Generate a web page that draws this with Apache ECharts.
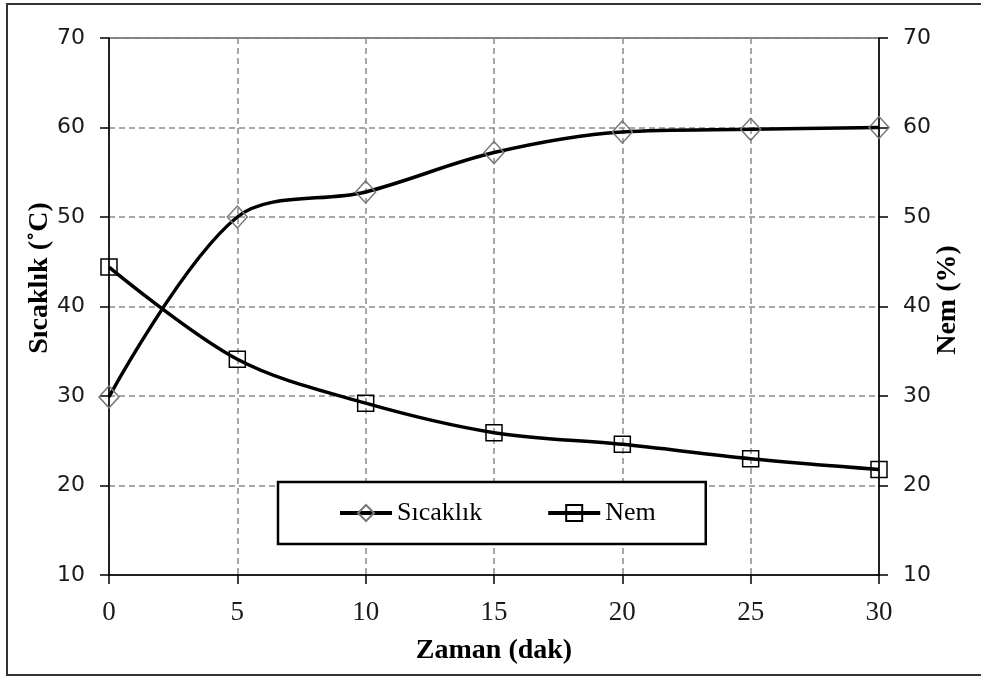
<!DOCTYPE html>
<html>
<head>
<meta charset="utf-8">
<script src="https://cdn.jsdelivr.net/npm/echarts@6/dist/echarts.min.js"></script>
<style>html,body{margin:0;padding:0;background:#fff;}#c{width:981px;height:677px;}</style>
</head>
<body>
<div id="c"></div>
<script>
const zaman = [0, 5, 10, 15, 20, 25, 30];
const sicaklik = [29.9, 50.0, 52.8, 57.2, 59.5, 59.8, 60.0];
const nem = [44.4, 34.1, 29.2, 25.9, 24.6, 23.0, 21.8];
const xTicks = [0, 5, 10, 15, 20, 25, 30];
const yTicks = [10, 20, 30, 40, 50, 60, 70];

const chart = echarts.init(document.getElementById('c'));
const gridLine = {show: true, lineStyle: {color: '#8a8a8a', width: 1.5, type: [6, 4]}};
const yLabel = {fontFamily: 'DejaVu Sans', fontSize: 22, color: '#1a1a1a', margin: 24};
function yAxis(pos) {
  return {
    type: 'value', position: pos, min: yTicks[0], max: yTicks[yTicks.length - 1], interval: 10,
    axisLine: {show: true, lineStyle: {color: '#000', width: 1.5}},
    axisTick: {show: true, length: 9, lineStyle: {color: '#000', width: 1.5}},
    axisLabel: yLabel,
    splitLine: pos === 'left' ? gridLine : {show: false}
  };
}
chart.setOption({
  animation: false,
  backgroundColor: '#fff',
  grid: {left: 109, top: 38, width: 770, height: 537, show: true, borderColor: '#000', borderWidth: 1, backgroundColor: 'transparent'},
  graphic: [
    {type: 'rect', shape: {x: 7, y: 4, width: 985, height: 671}, style: {fill: 'none', stroke: '#333', lineWidth: 2}, silent: true},
    {type: 'text', x: 40, y: 278, rotation: Math.PI / 2, style: {text: 'Sıcaklık (˚C)', textAlign: 'center', textVerticalAlign: 'middle', font: 'bold 28px "Liberation Serif"', fill: '#000'}},
    {type: 'text', x: 948, y: 300, rotation: Math.PI / 2, style: {text: 'Nem (%)', textAlign: 'center', textVerticalAlign: 'middle', font: 'bold 28px "Liberation Serif"', fill: '#000'}}
  ],
  legend: {
    left: 278, top: 482,
    padding: [18, 50, 18, 60],
    backgroundColor: '#fff', borderColor: '#000', borderWidth: 2.5,
    itemWidth: 52, itemHeight: 20, itemGap: 64, textGap: 5,
    lineStyle: {width: 4},
    textStyle: {fontFamily: 'Liberation Serif', fontSize: 26, color: '#000'},
    data: ['Sıcaklık', 'Nem']
  },
  xAxis: {
    type: 'value', min: xTicks[0], max: xTicks[xTicks.length - 1], interval: 5,
    name: 'Zaman (dak)', nameLocation: 'middle', nameGap: 62,
    nameTextStyle: {fontFamily: 'Liberation Serif', fontWeight: 'bold', fontSize: 28, color: '#000'},
    axisLine: {show: true, lineStyle: {color: '#000', width: 1.5}},
    axisTick: {show: true, length: 9, lineStyle: {color: '#000', width: 1.5}},
    axisLabel: {fontFamily: 'Liberation Serif', fontSize: 27, color: '#1a1a1a', margin: 24},
    splitLine: gridLine
  },
  yAxis: [yAxis('left'), yAxis('right')],
  series: [
    {
      name: 'Sıcaklık', type: 'line', yAxisIndex: 0, smooth: 0.33,
      data: zaman.map((x, i) => [x, sicaklik[i]]),
      symbol: 'diamond', symbolSize: [20, 22],
      lineStyle: {color: '#000', width: 3.5},
      itemStyle: {color: 'rgba(0,0,0,0)', borderColor: '#777', borderWidth: 1.5},
      z: 3
    },
    {
      name: 'Nem', type: 'line', yAxisIndex: 1, smooth: 0.33,
      data: zaman.map((x, i) => [x, nem[i]]),
      symbol: 'rect', symbolSize: 16,
      lineStyle: {color: '#000', width: 3.5},
      itemStyle: {color: 'rgba(0,0,0,0)', borderColor: '#000', borderWidth: 1.5},
      z: 3
    }
  ]
});
</script>
</body>
</html>
